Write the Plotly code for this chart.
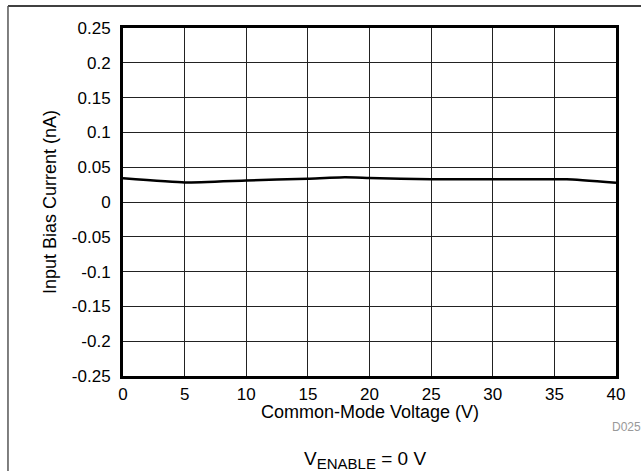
import plotly.graph_objects as go

# Input bias current vs common-mode voltage
vcm = [0, 5, 10, 15, 18, 20, 25, 30, 36, 40]
ib_na = [0.034, 0.028, 0.031, 0.0335, 0.0355, 0.0345, 0.0326, 0.0326, 0.0326, 0.0277]

y_ticks = [0.25, 0.2, 0.15, 0.1, 0.05, 0, -0.05, -0.1, -0.15, -0.2, -0.25]
y_labels = ["0.25", "0.2", "0.15", "0.1", "0.05", "0", "-0.05", "-0.1", "-0.15", "-0.2", "-0.25"]
x_ticks = [0, 5, 10, 15, 20, 25, 30, 35, 40]

font = "Liberation Sans, Arial, sans-serif"

fig = go.Figure()
fig.add_trace(go.Scatter(
    x=vcm, y=ib_na, mode="lines",
    line=dict(color="black", width=2.5, shape="spline", smoothing=0.4),
    showlegend=False, hoverinfo="skip",
))

fig.update_layout(
    width=641, height=471,
    margin=dict(l=123, r=25, t=28, b=95),
    paper_bgcolor="white", plot_bgcolor="white",
    font=dict(family=font, size=17, color="black"),
    xaxis=dict(
        range=[0, 40], tickvals=x_ticks, ticks="",
        showgrid=True, gridcolor="#222222", gridwidth=1,
        showline=True, linecolor="black", linewidth=3, mirror=True,
        zeroline=False, ticklabelstandoff=1,
    ),
    yaxis=dict(
        range=[-0.25, 0.25], tickvals=y_ticks, ticktext=y_labels, ticks="",
        showgrid=True, gridcolor="#222222", gridwidth=1,
        showline=True, linecolor="black", linewidth=3, mirror=True,
        zeroline=False, ticklabelstandoff=6,
    ),
    shapes=[
        # cell border (top and left)
        dict(type="line", xref="paper", yref="paper", x0=-0.2333, x1=1.06, y0=1.0632, y1=1.0632,
             line=dict(color="black", width=1.5)),
        dict(type="line", xref="paper", yref="paper", x0=-0.2333, x1=-0.2333, y0=1.0632, y1=-0.28,
             line=dict(color="#555555", width=1.5)),
    ],
    annotations=[
        dict(text="Common-Mode Voltage (V)", xref="paper", yref="paper", x=0.5, y=-0.104,
             xanchor="center", yanchor="middle", showarrow=False, font=dict(size=18)),
        dict(text="Input Bias Current (nA)", xref="paper", yref="paper", x=-0.148, y=0.5,
             xanchor="center", yanchor="middle", textangle=-90, showarrow=False,
             font=dict(size=18)),
        dict(text="D025", xref="paper", yref="paper", x=0.9878, y=-0.146, xanchor="left",
             yanchor="middle", showarrow=False, font=dict(size=12, color="#999999")),
        dict(text="V<sub><span style='font-size:15px'>ENABLE</span></sub> = 0 V",
             xref="paper", yref="paper", x=0.49, y=-0.2,
             xanchor="center", yanchor="top", showarrow=False, font=dict(size=19)),
    ],
)

fig.write_html("out.html", config={"displayModeBar": False},
               post_script="document.body.style.margin='0';")
